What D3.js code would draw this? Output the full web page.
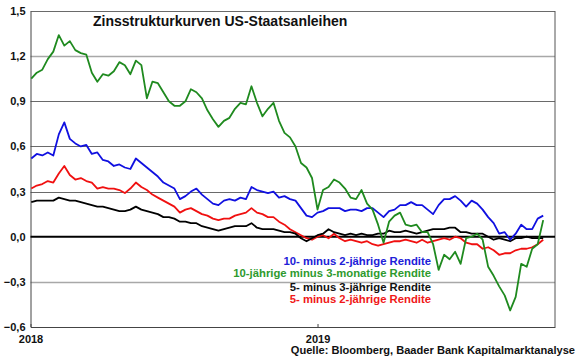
<!DOCTYPE html>
<html><head><meta charset="utf-8">
<script src="https://cdn.jsdelivr.net/npm/d3@7"></script>
<style>
html,body{margin:0;padding:0;background:#fff;}
text{font-family:Arial,"Liberation Sans",sans-serif;font-weight:bold;}
</style></head>
<body><svg id="c" width="580" height="359"></svg>
<script>
// ---- data ----
const firstWeek = "2018-01-02";   // weekly observations from this date
const yTicks = [-0.6, -0.3, 0.0, 0.3, 0.6, 0.9, 1.2, 1.5];
const xTickYears = ["2018", "2019"];
const title = "Zinsstrukturkurven US-Staatsanleihen";
const source = "Quelle: Bloomberg, Baader Bank Kapitalmarktanalyse";
const seriesNames = ["10- minus 2-jährige Rendite", "10-jährige minus 3-monatige Rendite", "5- minus 3-jährige Rendite", "5- minus 2-jährige Rendite"];

const green10y3m = [1.05,1.09,1.11,1.18,1.23,1.34,1.27,1.30,1.24,1.22,
 1.21,1.09,1.03,1.08,1.07,1.10,1.16,1.14,1.08,1.17,
 1.14,0.92,1.03,1.02,0.96,0.90,0.87,0.87,0.90,0.98,
 0.96,0.92,0.84,0.78,0.73,0.77,0.79,0.85,0.89,0.88,
 1.00,0.89,0.80,0.85,0.89,0.77,0.69,0.66,0.60,0.49,
 0.46,0.39,0.18,0.31,0.33,0.38,0.36,0.32,0.26,0.25,
 0.31,0.22,0.18,0.08,-0.04,0.10,0.14,0.16,0.08,0.07,
 0.08,0.03,0.03,-0.05,-0.22,-0.12,-0.15,-0.10,-0.18,-0.01,
 0.00,0.02,-0.02,-0.20,-0.26,-0.33,-0.39,-0.49,-0.40,-0.18,
 -0.20,-0.08,-0.05,0.11];
const blue10y2y = [0.52,0.55,0.54,0.56,0.54,0.68,0.76,0.65,0.62,0.60,
 0.61,0.55,0.56,0.51,0.50,0.47,0.48,0.46,0.45,0.52,
 0.49,0.46,0.43,0.40,0.36,0.34,0.32,0.25,0.27,0.30,
 0.32,0.28,0.25,0.22,0.21,0.24,0.25,0.24,0.26,0.25,
 0.33,0.31,0.30,0.29,0.30,0.26,0.27,0.25,0.24,0.19,
 0.14,0.13,0.16,0.17,0.19,0.19,0.19,0.17,0.18,0.18,
 0.17,0.19,0.19,0.16,0.13,0.17,0.18,0.21,0.21,0.23,
 0.21,0.21,0.18,0.15,0.21,0.25,0.25,0.27,0.24,0.20,
 0.24,0.22,0.18,0.13,0.09,0.02,0.03,-0.02,0.02,0.08,
 0.05,0.05,0.12,0.14];
const black5y3y = [0.23,0.24,0.24,0.24,0.24,0.26,0.25,0.24,0.24,0.23,
 0.22,0.21,0.20,0.20,0.19,0.18,0.17,0.17,0.18,0.20,
 0.18,0.17,0.16,0.15,0.13,0.13,0.12,0.10,0.10,0.09,
 0.09,0.07,0.06,0.05,0.04,0.05,0.06,0.07,0.07,0.07,
 0.09,0.06,0.05,0.05,0.05,0.04,0.03,0.03,0.02,-0.01,
 -0.03,-0.01,0.01,0.02,0.05,0.03,0.02,0.01,0.02,0.01,
 0.02,0.01,0.01,0.02,0.02,0.04,0.03,0.03,0.04,0.03,
 0.02,0.03,0.04,0.05,0.05,0.05,0.06,0.06,0.03,0.03,
 0.02,0.02,0.02,0.00,-0.02,-0.01,-0.02,-0.03,-0.01,-0.01,
 0.00,-0.01,-0.01,-0.01];
const red5y2y = [0.32,0.34,0.35,0.37,0.36,0.42,0.47,0.41,0.38,0.39,
 0.37,0.36,0.32,0.33,0.32,0.32,0.31,0.29,0.32,0.36,
 0.33,0.31,0.28,0.26,0.24,0.22,0.20,0.16,0.18,0.19,
 0.17,0.15,0.14,0.12,0.11,0.12,0.12,0.14,0.15,0.16,
 0.19,0.16,0.15,0.13,0.13,0.10,0.08,0.05,0.03,0.01,
 -0.01,-0.02,0.00,0.01,-0.01,0.02,-0.01,-0.03,-0.02,-0.03,
 -0.04,-0.03,-0.05,-0.06,-0.05,-0.04,-0.03,-0.03,-0.02,-0.03,
 -0.04,-0.02,-0.04,-0.03,-0.02,-0.01,-0.02,0.00,-0.01,-0.04,
 -0.05,-0.05,-0.08,-0.07,-0.09,-0.12,-0.11,-0.11,-0.09,-0.08,
 -0.08,-0.07,-0.05,-0.02];

// ---- chart ----
const svg = d3.select("#c");
const parse = d3.timeParse("%Y-%m-%d");
const start = parse(firstWeek);
const dates = green10y3m.map((_, i) => d3.timeWeek.offset(start, i));

const x = d3.scaleTime().domain([new Date(2018,0,1), new Date(2019,9,30)]).range([30.5, 555]);
const y = d3.scaleLinear().domain([-0.6, 1.5]).range([327, 11]);
const fmt = v => d3.format(".1f")(v).replace(".", ",");

// gridlines
const g = svg.append("g");
g.selectAll("line.grid").data(yTicks.filter(v => v !== 0 && v !== -0.6)).join("line")
  .attr("x1", x.range()[0]).attr("x2", x.range()[1])
  .attr("y1", d => Math.round(y(d)) + 0.5).attr("y2", d => Math.round(y(d)) + 0.5)
  .attr("stroke", d => (d === 1.2 || d === -0.3) ? "#a8a8a8" : "#6a6a6a")
  .attr("stroke-width", d => (d === 1.2 || d === -0.3) ? 1.5 : 1);

// frame right
svg.append("line").attr("x1", 555).attr("x2", 555).attr("y1", y(1.5)).attr("y2", y(-0.6)).attr("stroke", "#555");

// y axis
const yAxis = svg.append("g").attr("transform", "translate(30.5,0)")
  .call(d3.axisLeft(y).tickValues(yTicks).tickFormat(fmt).tickSize(0).tickPadding(5));
yAxis.select(".domain").attr("stroke", "#444");
yAxis.selectAll("text").attr("font-size", 11).attr("font-weight", "bold").attr("fill", "#111")
  .attr("font-family", "Arial, 'Liberation Sans', sans-serif");

// x axis
const yearDates = xTickYears.map(s => parse(s + "-01-01"));
const xAxis = svg.append("g").attr("transform", "translate(0,327)")
  .call(d3.axisBottom(x).tickValues(yearDates).tickFormat(d3.timeFormat("%Y")).tickSizeInner(-3).tickSizeOuter(0).tickPadding(8));
xAxis.select(".domain").attr("stroke", "#444");
xAxis.selectAll(".tick line").attr("stroke", "#444");
xAxis.selectAll("text").attr("font-size", 11).attr("font-weight", "bold").attr("fill", "#111")
  .attr("font-family", "Arial, 'Liberation Sans', sans-serif");

// zero line
svg.append("line").attr("x1", x.range()[0]).attr("x2", x.range()[1])
  .attr("y1", y(0)).attr("y2", y(0)).attr("stroke", "#000").attr("stroke-width", 2);

// series
const series = [
  {vals: red5y2y, color: "#f01010"},
  {vals: black5y3y, color: "#000000"},
  {vals: blue10y2y, color: "#1010e0"},
  {vals: green10y3m, color: "#1f8a1f"}
];
const line = d3.line().x((d, i) => x(dates[i])).y(d => y(d));
svg.selectAll("path.s").data(series).join("path")
  .attr("d", d => line(d.vals)).attr("fill", "none")
  .attr("stroke", d => d.color).attr("stroke-width", 1.8).attr("stroke-linejoin", "round");

// title
svg.append("text").attr("x", 93).attr("y", 26).attr("font-size", 14).attr("fill", "#111").text(title);

// legend
const legend = [
  {t: seriesNames[0], c: "#2020d8", y: 265},
  {t: seriesNames[1], c: "#2e9a2e", y: 277},
  {t: seriesNames[2], c: "#111111", y: 291},
  {t: seriesNames[3], c: "#f01818", y: 303}
];
svg.selectAll("text.leg").data(legend).join("text").attr("class", "leg")
  .attr("x", 431).attr("y", d => d.y).attr("text-anchor", "end")
  .attr("font-size", 11.3).attr("fill", d => d.c).text(d => d.t);

// source
svg.append("text").attr("x", 575).attr("y", 354).attr("text-anchor", "end")
  .attr("font-size", 11.1).attr("fill", "#111").text(source);
</script></body></html>
